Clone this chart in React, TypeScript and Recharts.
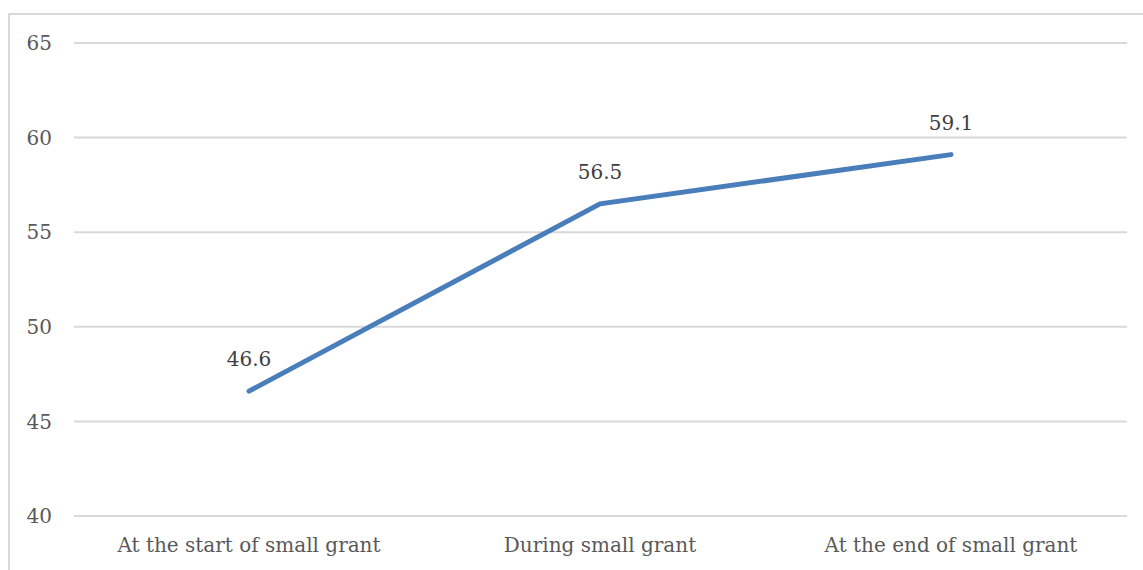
import React from "react";
import { LineChart, Line, XAxis, YAxis, CartesianGrid, LabelList } from "recharts";

const categories = ["At the start of small grant", "During small grant", "At the end of small grant"];
const scores = [46.6, 56.5, 59.1];
const yTicks = [40, 45, 50, 55, 60, 65];

const data = categories.map((name, i) => ({ name, value: scores[i] }));

const FONT = "'DejaVu Serif', serif";

export default function App() {
  return (
    <div style={{ position: "absolute", left: 0, top: 0, width: 1143, height: 570, background: "#fff", overflow: "hidden" }}>
      <div
        style={{
          position: "absolute",
          left: 8,
          top: 13,
          width: 1160,
          height: 600,
          border: "2px solid #d9d9d9",
          boxSizing: "border-box",
        }}
      />
      <LineChart
        width={1143}
        height={570}
        data={data}
        margin={{ top: 43, right: 16, bottom: 0, left: 0 }}
        style={{ position: "absolute", left: 0, top: 0 }}
      >
        <CartesianGrid stroke="#d9d9d9" strokeWidth={2} vertical={false} />
        <XAxis
          dataKey="name"
          height={54}
          axisLine={false}
          tickLine={false}
          tickSize={0}
          tickMargin={22}
          interval={0}
          padding={{ left: 175, right: 176 }}
          tick={{ fontSize: 20, fill: "#595959", fontFamily: FONT }}
        />
        <YAxis
          width={74}
          domain={[40, 65]}
          ticks={yTicks}
          axisLine={false}
          tickLine={false}
          tickSize={0}
          tickMargin={22}
          tick={{ fontSize: 20, fill: "#595959", fontFamily: FONT }}
        />
        <Line
          dataKey="value"
          stroke="#4a7ebb"
          strokeWidth={5}
          dot={false}
          activeDot={false}
          isAnimationActive={false}
          strokeLinecap="round"
        >
          <LabelList
            dataKey="value"
            position="top"
            offset={25}
            style={{ fontSize: 20, fill: "#404040", fontFamily: FONT }}
          />
        </Line>
      </LineChart>
    </div>
  );
}
